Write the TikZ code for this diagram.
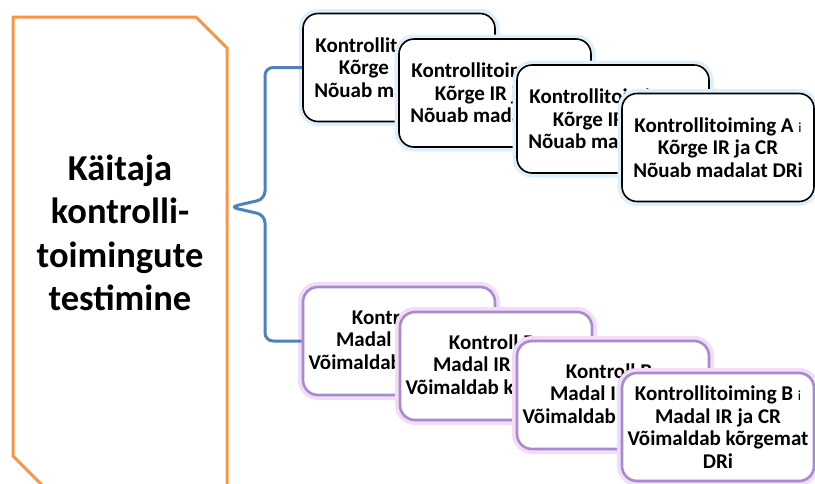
\documentclass[tikz,border=0pt]{standalone}
\usepackage{fontspec}
\setmainfont{Carlito}
\usetikzlibrary{positioning,calc}
\definecolor{tborange}{HTML}{F79646}
\definecolor{tbblue}{HTML}{4F81BD}
\definecolor{tbpurple}{HTML}{A58BCF}
\definecolor{glowa}{HTML}{DDEFFA}
\definecolor{glowb}{HTML}{F4DCF6}
\newcommand{\smi}{{\mdseries\fontsize{14}{14}\selectfont i}}

\begin{document}
\begin{tikzpicture}[x=1pt,y=-1pt,on grid,
   ctrl/.style={rectangle,rounded corners=15pt,fill=white,minimum width=192pt,minimum height=108pt,
      align=center,font=\bfseries\fontsize{21}{22.5}\selectfont},
   ctrla/.style={ctrl,draw=black,line width=1.6pt,preaction={draw=glowa,line width=9pt}},
   ctrlb/.style={ctrl,draw=tbpurple,line width=2.6pt,preaction={draw=glowb,line width=10pt}}]
   \useasboundingbox (0,0) rectangle (815,483);
   \clip (0,0) rectangle (815,483);
   \draw[tborange,line width=3pt,fill=white] (13,17) -- (196,17) -- (227,48) -- (227,487)
      -- (44,487) -- (13,456) -- cycle;
   \node[font=\bfseries\fontsize{36.5}{43.5}\selectfont,align=center] (testlabel) at (120,233)
      {Käitaja\\kontrolli-\\toimingute\\testimine};
   \node[ctrla] (A1) at (399,67.5) {Kontrollitoiming A \smi\\Kõrge IR ja CR\\Nõuab madalat DRi};
   \node[ctrla] (A2) [below right=25.5pt and 96pt of A1] {Kontrollitoiming A \smi\\Kõrge IR ja CR\\Nõuab madalat DRi};
   \node[ctrla] (A3) [below right=26pt and 118pt of A2] {Kontrollitoiming A \smi\\Kõrge IR ja CR\\Nõuab madalat DRi};
   \node[ctrla] (A4) [below right=28.5pt and 105pt of A3] {Kontrollitoiming A \smi\\Kõrge IR ja CR\\Nõuab madalat DRi};
   \node[ctrlb] (B1) at (399,341) {Kontroll B \smi\\Madal IR ja CR\\Võimaldab kõrgemat};
   \node[ctrlb] (B2) [below right=25pt and 97pt of B1] {Kontroll B \smi\\Madal IR ja CR\\Võimaldab kõrgemat};
   \node[ctrlb] (B3) [below right=29pt and 117pt of B2] {Kontroll B \smi\\Madal IR ja CR\\Võimaldab kõrgemat};
   \node[ctrlb] (B4) [below right=32pt and 105pt of B3] {Kontrollitoiming B \smi\\Madal IR ja CR\\Võimaldab kõrgemat\\DRi};
   \coordinate (tip) at (230,207);
   \draw[tbblue,line width=3pt,rounded corners=8pt] (A1.west) -| ($(tip)+(35,-8)$) -- (tip)
      -- ($(tip)+(35,8)$) |- (B1.west);
\end{tikzpicture}
\end{document}
